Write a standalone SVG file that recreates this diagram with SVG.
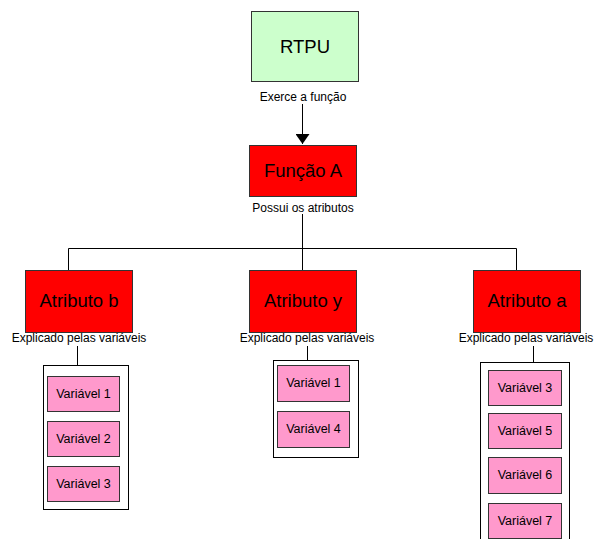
<svg xmlns="http://www.w3.org/2000/svg" width="594" height="539" viewBox="0 0 594 539">
<defs>
<style>
text{font-family:"Liberation Sans",Arial,sans-serif;fill:#000;text-anchor:middle}
.big{font-size:18.5px}
.lbl{font-size:12px}
.var{font-size:12.5px}
.red{fill:#ff0000;stroke:#333;stroke-width:1}
.green{fill:#ccffcc;stroke:#333;stroke-width:1}
.pink{fill:#ff99cc;stroke:#333;stroke-width:1}
.cont{fill:#fff;stroke:#000;stroke-width:1}
.ln{stroke:#000;stroke-width:1;fill:none}
</style>
<marker id="arr" markerWidth="10" markerHeight="14" refX="10" refY="7" orient="auto" markerUnits="userSpaceOnUse">
<path d="M0,0 L10,7 L0,14 Z" fill="#000"/>
</marker>
</defs>
<rect width="594" height="539" fill="#fff"/>
<g id="connectors">
<path class="ln" d="M302.5,104 V144" marker-end="url(#arr)"/>
<path class="ln" d="M302.5,214 V248.5 M68.5,248.5 H516.5 M68.5,248.5 V270 M302.5,248.5 V270 M516.5,248.5 V270"/>
<path class="ln" d="M77.5,346 V365 M307.5,346 V360 M533.5,346 V362"/>
</g>
<g id="rtpu">
<rect class="green" x="251.5" y="11.5" width="107" height="70"/>
<text class="big" x="305" y="53">RTPU</text>
<text class="lbl" x="303" y="101">Exerce a função</text>
</g>
<g id="funcaoA">
<rect class="red" x="249.5" y="145.5" width="107" height="51"/>
<text class="big" x="303" y="177">Função A</text>
<text class="lbl" x="303" y="212">Possui os atributos</text>
</g>
<g id="atributoB">
<rect class="red" x="25.5" y="270.5" width="107" height="62"/>
<text class="big" x="79" y="307">Atributo b</text>
<text class="lbl" x="79" y="342">Explicado pelas variáveis</text>
</g>
<g id="atributoY">
<rect class="red" x="249.5" y="270.5" width="107" height="62"/>
<text class="big" x="303" y="307">Atributo y</text>
<text class="lbl" x="307" y="342">Explicado pelas variáveis</text>
</g>
<g id="atributoA">
<rect class="red" x="473.5" y="270.5" width="107" height="62"/>
<text class="big" x="527" y="307">Atributo a</text>
<text class="lbl" x="526" y="342">Explicado pelas variáveis</text>
</g>
<g id="groupB">
<rect class="cont" x="43.5" y="365.5" width="85" height="144"/>
<rect class="pink" x="47.5" y="376.5" width="72" height="35"/>
<text class="var" x="83.5" y="398">Variável 1</text>
<rect class="pink" x="47.5" y="421.5" width="72" height="35"/>
<text class="var" x="83.5" y="443">Variável 2</text>
<rect class="pink" x="47.5" y="466.5" width="72" height="35"/>
<text class="var" x="83.5" y="488">Variável 3</text>
</g>
<g id="groupY">
<rect class="cont" x="273.5" y="360.5" width="85" height="97"/>
<rect class="pink" x="277.5" y="365.5" width="72" height="36"/>
<text class="var" x="313.5" y="387">Variável 1</text>
<rect class="pink" x="277.5" y="411.5" width="72" height="36"/>
<text class="var" x="313.5" y="433">Variável 4</text>
</g>
<g id="groupA">
<rect class="cont" x="480.5" y="362.5" width="89" height="190"/>
<rect class="pink" x="488.5" y="370.5" width="73" height="35"/>
<text class="var" x="525" y="392">Variável 3</text>
<rect class="pink" x="488.5" y="413.5" width="73" height="35"/>
<text class="var" x="525" y="435">Variável 5</text>
<rect class="pink" x="488.5" y="457.5" width="73" height="36"/>
<text class="var" x="525" y="479">Variável 6</text>
<rect class="pink" x="488.5" y="503.5" width="73" height="35"/>
<text class="var" x="525" y="525">Variável 7</text>
</g>
</svg>
